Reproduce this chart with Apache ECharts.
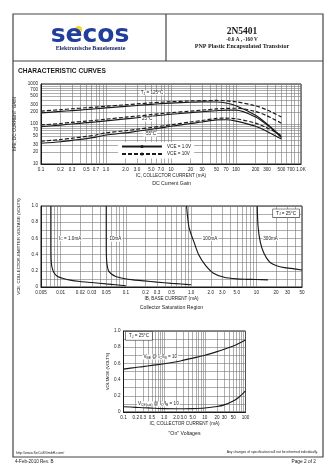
<!DOCTYPE html>
<html><head><meta charset="utf-8">
<script src="https://cdn.jsdelivr.net/npm/echarts@6/dist/echarts.min.js"></script>
<style>html,body{margin:0;padding:0;background:#fff}#c{width:336px;height:475px}</style>
</head><body><div id="c"></div>
<script>
// ---------- Chart 1: DC Current Gain ----------
const gainIc = [0.1,0.2,0.3,0.5,0.7,1,2,3,5,7,10,20,30,50,70,100,200,300,500];
const hfe125Solid  = [190,206,216,230,240,252,275,290,310,322,333,350,357,355,335,285,165,100,48];
const hfe125Dashed = [210,228,240,255,265,278,302,318,338,350,360,378,385,388,380,360,285,225,150];
const hfe25Solid   = [86,94,100,108,113,120,134,143,156,165,175,192,203,215,222,222,150,95,46];
const hfe25Dashed  = [95,103,110,118,124,132,148,158,172,182,192,210,222,238,245,248,205,160,105];
const hfeM55Solid  = [33,36,39,43,47,53,60,66,74,80,88,103,112,127,128,118,88,65,42];
const hfeM55Dashed = [37,41,44,49,53,60,68,74,82,88,96,112,122,138,140,135,105,80,52];
const gainXTicks  = [0.1,0.2,0.3,0.5,0.7,1,2,3,5,7,10,20,30,50,70,100,200,300,500,700,1000];
const gainXLabels = ['0.1','0.2','0.3','0.5','0.7','1.0','2.0','3.0','5.0','7.0','10','20','30','50','70','100','200','300','500','700','1.0K'];
const gainYTicks  = [10,20,30,50,70,100,200,300,500,700,1000];
const gainYLabels = ['10','20','30','50','70','100','200','300','500','700','1000'];

// ---------- Chart 2: Collector Saturation Region ----------
const sat1mAIb   = [0.0071,0.0071,0.0072,0.0075,0.008,0.009,0.011,0.014,0.02,0.03,0.05,0.07,0.1];
const sat1mAV    = [1.0,0.5,0.3,0.22,0.17,0.13,0.105,0.085,0.068,0.055,0.038,0.028,0.015];
const sat10mAIb  = [0.05,0.05,0.051,0.054,0.06,0.07,0.093,0.13,0.19,0.3,0.5,0.7,1.0];
const sat10mAV   = [1.0,0.5,0.3,0.2,0.16,0.13,0.105,0.088,0.075,0.06,0.045,0.037,0.028];
const sat100mAIb = [0.85,0.92,1.0,1.1,1.3,1.65,2.2,3.2,5,7,10,15];
const sat100mAV  = [1.0,0.75,0.65,0.56,0.4,0.27,0.17,0.12,0.1,0.095,0.092,0.088];
const sat300mAIb = [10.3,10.6,11.5,13,15.5,18,21,27,34,50];
const sat300mAV  = [1.0,0.75,0.55,0.42,0.32,0.28,0.26,0.24,0.23,0.21];
const satXTicks  = [0.005,0.01,0.02,0.03,0.05,0.1,0.2,0.3,0.5,1,2,3,5,10,20,30,50];
const satXLabels = ['0.005','0.01','0.02','0.03','0.05','0.1','0.2','0.3','0.5','1.0','2.0','3.0','5.0','10','20','30','50'];
const satYTicks  = [0,0.2,0.4,0.6,0.8,1.0];
const satYLabels = ['0','0.2','0.4','0.6','0.8','1.0'];

// ---------- Chart 3: "On" Voltages ----------
const onIc     = [0.1,0.2,0.3,0.5,1,2,3,5,10,20,30,50,70,100];
const onVbeSat = [0.53,0.55,0.56,0.575,0.595,0.62,0.64,0.665,0.7,0.745,0.775,0.815,0.85,0.89];
const onVceSat = [0.065,0.058,0.053,0.048,0.042,0.04,0.04,0.042,0.05,0.068,0.088,0.135,0.185,0.26];
const onXTicks  = [0.1,0.2,0.3,0.5,1,2,3,5,10,20,30,50,100];
const onXLabels = ['0.1','0.2','0.3','0.5','1.0','2.0','3.0','5.0','10','20','30','50','100'];
const onYTicks  = [0,0.2,0.4,0.6,0.8,1.0];
const onYLabels = ['0','0.2','0.4','0.6','0.8','1.0'];

const SANS = 'Liberation Sans, Arial, sans-serif';
const SERIF = 'Liberation Serif, Times New Roman, serif';
const INK = '#1a1a1a';
const GRIDC = '#777';

function logGrid(lo, hi) {
  const out = [];
  for (let e = -4; e <= 4; e++) for (let m = 1; m <= 9; m++) {
    const v = +(m * Math.pow(10, e)).toPrecision(6);
    if (v >= lo * 0.9999 && v <= hi * 1.0001) out.push(v);
  }
  return out;
}
function lookup(ticks, labels, isLog) {
  return function (v) {
    const i = ticks.findIndex(t => isLog ? Math.abs(t - v) / t < 1e-6 : Math.abs(t - v) < 1e-6);
    return i >= 0 ? labels[i] : '';
  };
}
function logX(gi, min, max, ticks, labels, name) {
  return {
    type: 'log', logBase: 10, gridIndex: gi, min: min, max: max,
    name: name, nameLocation: 'middle', nameGap: 9,
    nameTextStyle: { fontSize: 4.6, color: INK, fontFamily: SANS },
    axisLine: { show: true, lineStyle: { color: INK, width: 1 } },
    axisTick: { show: false, customValues: logGrid(min, max) },
    axisLabel: { customValues: ticks, formatter: lookup(ticks, labels, true), fontSize: 4.6, color: '#222', margin: 3, fontFamily: SANS, showMinLabel: true, showMaxLabel: true },
    splitLine: { show: true, lineStyle: { color: GRIDC, width: 0.6 } }
  };
}
function linY(gi, ticks, labels, name, gap) {
  return {
    type: 'value', gridIndex: gi, min: 0, max: 1.0, interval: 0.1,
    name: name, nameLocation: 'middle', nameRotate: 90, nameGap: gap,
    nameTextStyle: { fontSize: 4.3, color: INK, fontFamily: SANS },
    axisLine: { show: true, lineStyle: { color: INK, width: 1 } },
    axisTick: { show: false },
    axisLabel: { customValues: ticks, formatter: lookup(ticks, labels, false), fontSize: 4.6, color: '#222', margin: 3, fontFamily: SANS },
    splitLine: { show: true, lineStyle: { color: GRIDC, width: 0.6 } }
  };
}
function pairs(xs, ys) { return xs.map((x, i) => [x, ys[i]]); }
function curve(name, gi, data, dashed, smooth) {
  return {
    type: 'line', name: name, xAxisIndex: gi, yAxisIndex: gi, data: data,
    symbol: 'none', smooth: smooth, silent: true, animation: false,
    lineStyle: { color: INK, width: 1.15, type: dashed ? [4, 2] : 'solid' },
    itemStyle: { color: INK }
  };
}
function note(coord, text, boxed) {
  return {
    coord: coord, symbol: 'rect', symbolSize: 1, itemStyle: { color: 'rgba(0,0,0,0)' },
    label: {
      show: true, position: 'inside', formatter: text, fontSize: 4.6, color: INK, fontFamily: SANS,
      backgroundColor: '#fff', padding: boxed ? [1.5, 3] : [0, 1],
      borderColor: boxed ? '#333' : 'transparent', borderWidth: boxed ? 0.6 : 0,
      rich: { s: { fontSize: 3.4, color: INK, fontFamily: SANS, verticalAlign: 'bottom' } }
    }
  };
}

const S1 = 'VCE = 1.0V', S10 = 'VCE = 10V';
const series = [
  curve(S1, 0, pairs(gainIc, hfe125Solid), false, 0.3),
  curve(S10, 0, pairs(gainIc, hfe125Dashed), true, 0.3),
  curve(S1, 0, pairs(gainIc, hfe25Solid), false, 0.3),
  curve(S10, 0, pairs(gainIc, hfe25Dashed), true, 0.3),
  curve(S1, 0, pairs(gainIc, hfeM55Solid), false, 0.3),
  curve(S10, 0, pairs(gainIc, hfeM55Dashed), true, 0.3),
  curve('IC = 1.0mA', 1, pairs(sat1mAIb, sat1mAV), false, 0.25),
  curve('10mA', 1, pairs(sat10mAIb, sat10mAV), false, 0.25),
  curve('100mA', 1, pairs(sat100mAIb, sat100mAV), false, 0.25),
  curve('300mA', 1, pairs(sat300mAIb, sat300mAV), false, 0.25),
  curve('VBE(sat)', 2, pairs(onIc, onVbeSat), false, 0.3),
  curve('VCE(sat)', 2, pairs(onIc, onVceSat), false, 0.3)
];
series[1].markPoint = { silent: true, animation: false, data: [
  note([5.1, 600], 'T{s|J} = 125°C', false),
  note([4.3, 133], '25°C', false),
  note([4.8, 56], '-55°C', false)
]};
series[6].markPoint = { silent: true, animation: false, data: [
  note([0.014, 0.6], 'I{s|C} = 1.0mA', false),
  note([0.069, 0.59], '10mA', false),
  note([1.95, 0.6], '100mA', false),
  note([16.5, 0.6], '300mA', false),
  note([28.5, 0.91], 'T{s|J} = 25°C', true)
]};
series[10].markPoint = { silent: true, animation: false, data: [
  note([0.24, 0.94], 'T{s|J} = 25°C', true),
  note([0.8, 0.68], 'V{s|BE} @ I{s|C}/I{s|B} = 10', false),
  note([0.72, 0.1], 'V{s|CE(sat)} @ I{s|C}/I{s|B} = 10', false)
]};

function T(text, x, y, size, o) {
  o = o || {};
  return { type: 'text', x: x, y: y, silent: true, z: 10, rotation: o.rot || 0,
    style: { text: text, fontSize: size, fontFamily: o.font || SANS, fontWeight: o.bold ? 'bold' : 'normal',
      fill: o.color || INK, align: o.align || 'left', textAlign: o.align || 'left',
      verticalAlign: 'middle', textVerticalAlign: 'middle' } };
}
function L(x1, y1, x2, y2, w, c) {
  return { type: 'line', silent: true, z: 10, shape: { x1: x1, y1: y1, x2: x2, y2: y2 }, style: { stroke: c || '#444', lineWidth: w || 1 } };
}

const graphics = [
  { type: 'rect', silent: true, z: 10, shape: { x: 13, y: 14, width: 310, height: 443 }, style: { fill: 'none', stroke: '#444', lineWidth: 1.2 } },
  L(13, 61, 323, 61, 1.2), L(166, 14, 166, 61, 1.2),
  { type: 'circle', silent: true, z: 10, shape: { cx: 78.5, cy: 29.5, r: 3.6 }, style: { fill: '#f2d43a' } },
  T('secos', 90, 35, 25, { bold: true, color: '#213f9a', align: 'center', font: 'DejaVu Sans, sans-serif' }),
  T('Elektronische Bauelemente', 90.5, 48, 6, { bold: true, color: '#1b2a66', align: 'center', font: SERIF }),
  T('2N5401', 242, 32, 9.5, { bold: true, align: 'center', font: SERIF }),
  T('-0.6 A , -160 V', 242, 40, 5.2, { bold: true, align: 'center', font: SERIF }),
  T('PNP Plastic Encapsulated Transistor', 242, 46.5, 6, { bold: true, align: 'center', font: SERIF }),
  T('CHARACTERISTIC CURVES', 18, 71, 6.6, { bold: true }),
  T('DC Current Gain', 171.5, 184, 5.2, { align: 'center' }),
  T('Collector Saturation Region', 171.5, 308, 5.2, { align: 'center' }),
  T('"On" Voltages', 184.5, 434, 5.2, { align: 'center' }),
  T('http://www.SeCoSGmbH.com/', 16, 452.5, 3.6, {}),
  T('Any changes of specification will not be informed individually.', 318, 452.5, 3.4, { align: 'right' }),
  T('4-Feb-2010 Rev. B', 15, 462, 4.6, {}),
  T('Page 2 of 2', 316, 462, 4.8, { align: 'right' })
];

const chart = echarts.init(document.getElementById('c'), null, { renderer: 'canvas' });
chart.setOption({
  animation: false,
  backgroundColor: '#fff',
  textStyle: { fontFamily: SANS },
  grid: [
    { left: 41, top: 84, width: 260, height: 80, show: true, borderColor: INK, borderWidth: 1, backgroundColor: '#fff' },
    { left: 41, top: 206, width: 261, height: 81, show: true, borderColor: INK, borderWidth: 1, backgroundColor: '#fff' },
    { left: 123.5, top: 331, width: 122, height: 81, show: true, borderColor: INK, borderWidth: 1, backgroundColor: '#fff' }
  ],
  xAxis: [
    logX(0, 0.1, 1000, gainXTicks, gainXLabels, 'IC, COLLECTOR CURRENT (mA)'),
    logX(1, 0.005, 50, satXTicks, satXLabels, 'IB, BASE CURRENT (mA)'),
    logX(2, 0.1, 100, onXTicks, onXLabels, 'IC, COLLECTOR CURRENT (mA)')
  ],
  yAxis: [
    {
      type: 'log', logBase: 10, gridIndex: 0, min: 10, max: 1000,
      name: 'hFE, DC CURRENT GAIN', nameLocation: 'middle', nameRotate: 90, nameGap: 17,
      nameTextStyle: { fontSize: 4.6, color: INK, fontFamily: SANS },
      axisLine: { show: true, lineStyle: { color: INK, width: 1 } },
      axisTick: { show: false, customValues: logGrid(10, 1000) },
      axisLabel: { customValues: gainYTicks, formatter: lookup(gainYTicks, gainYLabels, true), fontSize: 4.6, color: '#222', margin: 3, fontFamily: SANS, showMinLabel: true, showMaxLabel: true },
      splitLine: { show: true, lineStyle: { color: GRIDC, width: 0.6 } }
    },
    linY(1, satYTicks, satYLabels, 'VCE, COLLECTOR-EMITTER VOLTAGE (VOLTS)', 17),
    linY(2, onYTicks, onYLabels, 'VOLTAGE (VOLTS)', 14)
  ],
  legend: {
    data: [S1, S10], left: 118, top: 142, orient: 'vertical', selectedMode: false,
    itemWidth: 40, itemHeight: 4, itemGap: 2.5, padding: [2, 3], backgroundColor: '#fff',
    textStyle: { fontSize: 4.6, color: INK, fontFamily: SANS }
  },
  graphic: graphics,
  series: series
});
</script></body></html>
